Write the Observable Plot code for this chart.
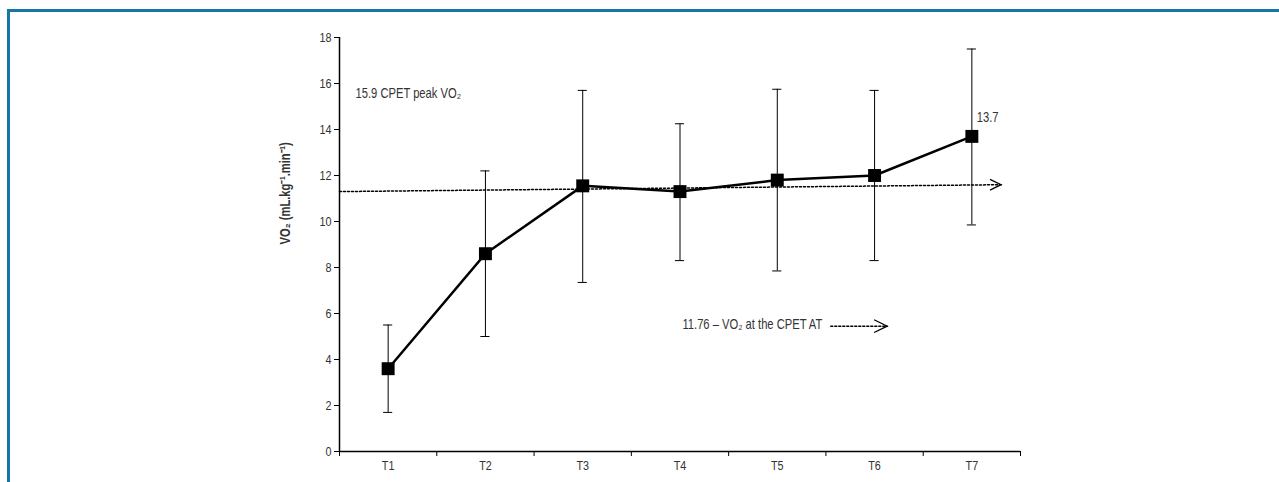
<!DOCTYPE html>
<html>
<head>
<meta charset="utf-8">
<script src="https://cdn.jsdelivr.net/npm/d3@7"></script>
<script src="https://cdn.jsdelivr.net/npm/@observablehq/plot@0.6"></script>
<style>
  html, body { margin: 0; padding: 0; background: #fff; }
  #wrap { position: relative; width: 1279px; height: 482px; overflow: hidden; }
  #frame { position: absolute; left: 7px; top: 9px; right: -10px; bottom: -10px;
           border-top: 3px solid #1677a6; border-left: 3px solid #1677a6; pointer-events: none; }
</style>
</head>
<body>
<div id="wrap"><div id="frame"></div></div>
<script>
// Data
const times = ["T1", "T2", "T3", "T4", "T5", "T6", "T7"];
const vo2Mean = [3.6, 8.6, 11.55, 11.3, 11.8, 12.0, 13.7];
const vo2Upper = [5.5, 12.2, 15.7, 14.25, 15.75, 15.7, 17.5];
const vo2Lower = [1.7, 5.0, 7.35, 8.3, 7.85, 8.3, 9.85];
const yTicks = [0, 2, 4, 6, 8, 10, 12, 14, 16, 18];
// dotted trend line (in band units: 0 = left edge of T1, 7 = right edge of T7)
const trendX = [0, 6.8];
const trendY = [11.3, 11.6];
// legend arrow
const legendArrowX = [5.05, 5.63];
const legendArrowY = [5.45, 5.45];
const annotations = [
  {x: 0.165, y: 15.57, text: "15.9 CPET peak VO₂"},
  {x: 6.55, y: 14.52, text: "13.7"},
  {x: 3.525, y: 5.5, text: "11.76 – VO₂ at the CPET AT"}
];
const yLabel = "VO₂ (mL.kg⁻¹.min⁻¹)";

const data = times.map((t, i) => ({t, x: i + 0.5, y: vo2Mean[i], hi: vo2Upper[i], lo: vo2Lower[i]}));
const bounds = d3.range(0, times.length + 1);
const capHalf = 0.047;
const trend = trendX.map((x, i) => ({x, y: trendY[i]}));
const legendLine = legendArrowX.map((x, i) => ({x, y: legendArrowY[i]}));
const font = "'Liberation Sans', Arial, sans-serif";

// open chevron ">" symbol, tip at the anchor point
const chevron = {
  draw(ctx, size) {
    const k = Math.sqrt(size / Math.PI);
    ctx.moveTo(-k * 1.75, -k * 0.85);
    ctx.lineTo(0, 0);
    ctx.lineTo(-k * 1.75, k * 0.85);
  }
};

const chart = Plot.plot({
  width: 1279,
  height: 482,
  marginLeft: 339,
  marginRight: 259,
  marginTop: 37,
  marginBottom: 31,
  style: {fontFamily: font, fontSize: "14px", color: "#333", background: "transparent"},
  x: {type: "linear", domain: [0, times.length]},
  y: {domain: [0, 18]},
  marks: [
    Plot.axisY({ticks: yTicks, tickSize: 5, tickPadding: 3, label: null, stroke: "#000", fill: "#333", fontSize: 13.5}),
    Plot.axisX({ticks: bounds, tickSize: 5, tickFormat: () => "", label: null, stroke: "#000"}),
    Plot.axisX({ticks: data.map(d => d.x), tickSize: 0, tickPadding: 9, tickFormat: (v) => times[Math.round(v - 0.5)], label: null, fill: "#333", fontSize: 13.5}),
    Plot.ruleY([0], {x1: 0, x2: times.length, stroke: "#000", strokeWidth: 1.5}),
    Plot.ruleX([0], {y1: 0, y2: 18, stroke: "#000", strokeWidth: 1.5}),
    Plot.text([yLabel], {frameAnchor: "left", dx: -54, rotate: -90, fontWeight: "bold", fill: "#333", fontSize: 14}),
    // dotted trend line with open arrowhead
    Plot.line(trend, {x: "x", y: "y", stroke: "#000", strokeWidth: 1.5, strokeDasharray: "2,2"}),
    Plot.dot([trend[1]], {x: "x", y: "y", symbol: chevron, r: 6.3, fill: "none", stroke: "#000", strokeWidth: 1.3}),
    // error bars
    Plot.ruleX(data, {x: "x", y1: "lo", y2: "hi", stroke: "#000", strokeWidth: 1}),
    Plot.ruleY(data, {y: "hi", x1: d => d.x - capHalf, x2: d => d.x + capHalf, stroke: "#000", strokeWidth: 1}),
    Plot.ruleY(data, {y: "lo", x1: d => d.x - capHalf, x2: d => d.x + capHalf, stroke: "#000", strokeWidth: 1}),
    // mean line and squares
    Plot.line(data, {x: "x", y: "y", stroke: "#000", strokeWidth: 2.5}),
    Plot.dot(data, {x: "x", y: "y", symbol: "square", r: 7.3, fill: "#000", stroke: "none"}),
    // annotations
    Plot.text(annotations, {x: "x", y: "y", text: "text", textAnchor: "start", fill: "#333", fontSize: 14}),
    // legend arrow
    Plot.line(legendLine, {x: "x", y: "y", stroke: "#000", strokeWidth: 1.5, strokeDasharray: "2,2"}),
    Plot.dot([legendLine[1]], {x: "x", y: "y", symbol: chevron, r: 7.5, fill: "none", stroke: "#000", strokeWidth: 1.3})
  ]
});

// emulate the narrow typeface: squeeze each label horizontally about its anchor
const squeeze = 0.8;
chart.querySelectorAll("text").forEach((t) => {
  let tr = t.getAttribute("transform");
  if (!tr) {
    const x = +t.getAttribute("x") || 0, y = +t.getAttribute("y") || 0;
    t.removeAttribute("x"); t.removeAttribute("y");
    tr = `translate(${x},${y})`;
  }
  t.setAttribute("transform", `${tr} scale(${squeeze},1)`);
});

chart.style.position = "absolute";
chart.style.left = "0px";
chart.style.top = "0px";
document.getElementById("wrap").appendChild(chart);
</script>
</body>
</html>
